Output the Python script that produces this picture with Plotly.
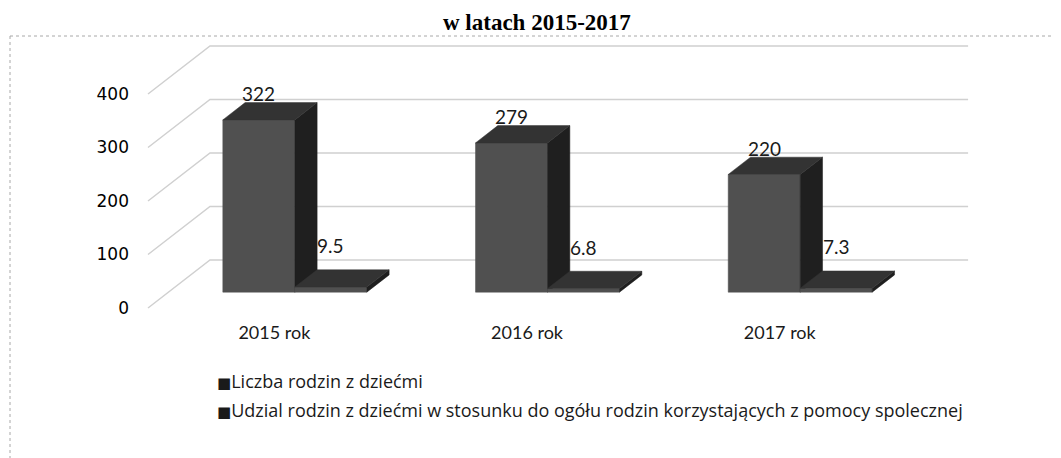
import plotly.graph_objects as go

# ---------------- data ----------------
categories = ["2015 rok", "2016 rok", "2017 rok"]
liczba_rodzin = [322, 279, 220]
udzial_rodzin = [9.5, 6.8, 7.3]
series_names = [
    "Liczba rodzin z dziećmi",
    "Udzial rodzin z dziećmi w stosunku do ogółu rodzin korzystających z pomocy spolecznej",
]
y_ticks = [0, 100, 200, 300, 400]
title_text = "w latach 2015-2017"

# ---------------- geometry / styling ----------------
OFF = 8                      # page body margin
W, H = 1061 - OFF, 458 - OFF
ML, MR, MT, MB = 140 - OFF, 81, 30 - OFF, 138
PW, PH = W - ML - MR, H - MT - MB
PX_PER_CAT = 252.7
PX_PER_UNIT = 0.535
FRONT_LEFT_PX = 148 - OFF     # x pixel of category -0.5 at front plane
FRONT_ZERO_PX = 308 - OFF     # y pixel of value 0 at front plane

DX = 62 / PX_PER_CAT      # full floor depth, x (category units)
DY = 48 / PX_PER_UNIT     # full floor depth, y (value units)
D0 = 0.33                 # depth of bar front plane
DD = 0.36                 # bar depth
BW = 72 / PX_PER_CAT      # bar width

x_range = [-0.5 - (FRONT_LEFT_PX - ML) / PX_PER_CAT, 0]
x_range[1] = x_range[0] + PW / PX_PER_CAT
y_range = [(FRONT_ZERO_PX - (MT + PH)) / PX_PER_UNIT, (FRONT_ZERO_PX - MT) / PX_PER_UNIT]


def pxx(px):
    return (px - OFF - ML) / PW


def pxy(py):
    return (MT + PH - (py - OFF)) / PH


FRONT_C = "#505050"
SIDE_C = "#1f1f1f"
TOP_C = "#333333"
GRID_C = "#d0d0d0"
TEXT_C = "#1a1a1a"

fig = go.Figure()

# gridlines: diagonal side wall + back wall
gx, gy = [], []
for v in y_ticks:
    gx += [-0.5, -0.5 + DX, len(categories) - 0.5 + DX, None]
    gy += [v, v + DY, v + DY, None]
fig.add_trace(go.Scatter(x=gx, y=gy, mode="lines", line=dict(color=GRID_C, width=1.5),
                         hoverinfo="skip", showlegend=False))

fx, fy = D0 * DX, D0 * DY
bx, by = DD * DX, DD * DY
annotations = []
for s, values in enumerate([liczba_rodzin, udzial_rodzin]):
    front_x, front_y, side_x, side_y, top_x, top_y = [], [], [], [], [], []
    for i, v in enumerate(values):
        xl = i - BW + s * BW + fx
        xr = xl + BW
        yb = fy
        yt = fy + v
        front_x += [xl, xr, xr, xl, xl, None]
        front_y += [yb, yb, yt, yt, yb, None]
        side_x += [xr, xr + bx, xr + bx, xr, xr, None]
        side_y += [yb, yb + by, yt + by, yt, yb, None]
        top_x += [xl, xr, xr + bx, xl + bx, xl, None]
        top_y += [yt, yt, yt + by, yt + by, yt, None]
        annotations.append(dict(
            x=xl + BW / 2, y=yt + by, xref="x", yref="y", text=str(v),
            showarrow=False, yanchor="middle", yshift=9 if s == 0 else 24,
            font=dict(family="Lato", size=19, color=TEXT_C)))
    for xs, ys, col in [(front_x, front_y, FRONT_C), (side_x, side_y, SIDE_C), (top_x, top_y, TOP_C)]:
        fig.add_trace(go.Scatter(x=xs, y=ys, mode="lines", fill="toself", fillcolor=col,
                                 line=dict(color=col, width=0.5), name=series_names[s],
                                 hoverinfo="skip", showlegend=False))

# legend (drawn as text rows like the original)
for k, name in enumerate(series_names):
    annotations.append(dict(
        x=pxx(215), y=pxy(381 + 29 * k), xref="paper", yref="paper",
        text="<span style='font-family:DejaVu Sans;font-size:15px'>■</span>" + name,
        showarrow=False, xanchor="left", yanchor="middle",
        font=dict(family="Open Sans", size=18, color=TEXT_C)))

# title (kept fully visible at the top)
annotations.append(dict(
    x=pxx(537), y=pxy(OFF), xref="paper", yref="paper", text="<b>" + title_text + "</b>",
    showarrow=False, xanchor="center", yanchor="top",
    font=dict(family="Liberation Serif", size=23, color="#000000")))

shapes = [
    dict(type="line", xref="paper", yref="paper", x0=pxx(10), x1=pxx(1061), y0=pxy(36), y1=pxy(36),
         line=dict(color="#a8a8a8", width=1, dash="dot")),
    dict(type="line", xref="paper", yref="paper", x0=pxx(10), x1=pxx(10), y0=pxy(36), y1=pxy(458),
         line=dict(color="#a8a8a8", width=1, dash="dot")),
]

fig.update_layout(
    width=W, height=H,
    margin=dict(l=ML, r=MR, t=MT, b=MB),
    paper_bgcolor="white", plot_bgcolor="white",
    showlegend=False,
    annotations=annotations,
    shapes=shapes,
    xaxis=dict(range=x_range, tickvals=list(range(len(categories))), ticktext=categories,
               showgrid=False, zeroline=False, showline=False, ticks="",
               tickfont=dict(family="Lato", size=18, color=TEXT_C), fixedrange=True),
    yaxis=dict(range=y_range, tickvals=y_ticks, showgrid=False, zeroline=False, showline=False,
               ticks="", ticklabelstandoff=10,
               tickfont=dict(family="DejaVu Sans", size=17, color="#000000"), fixedrange=True),
)

fig.write_html("out.html")
